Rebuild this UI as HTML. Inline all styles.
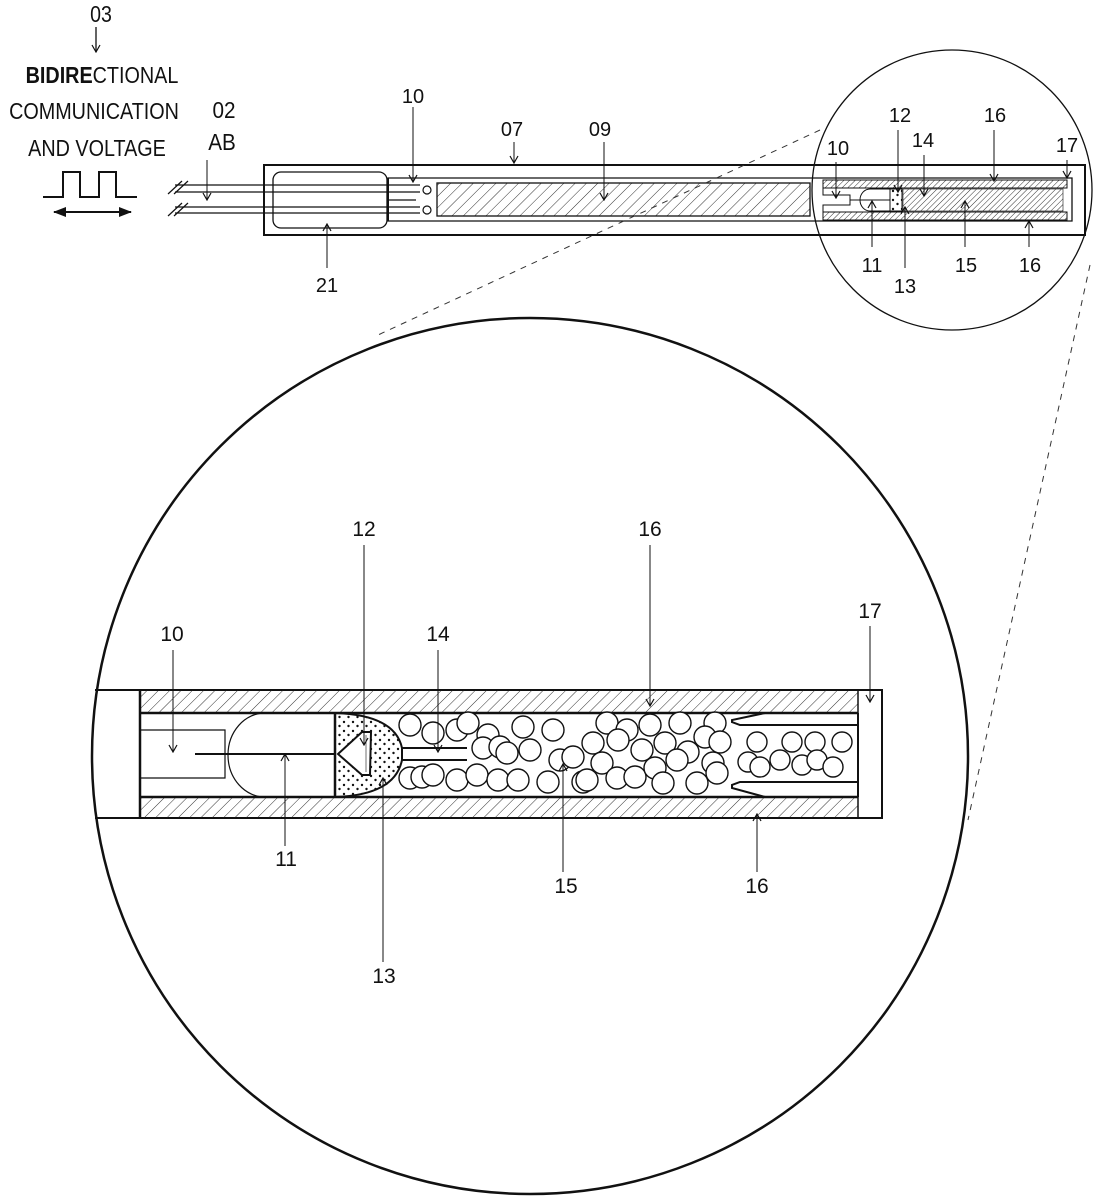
<!DOCTYPE html>
<html><head><meta charset="utf-8"><style>
html,body{margin:0;padding:0;background:#fff;}
svg{display:block;}
text{font-family:"Liberation Sans",sans-serif;fill:#111;}
</style></head><body>
<svg width="1105" height="1200" viewBox="0 0 1105 1200" xmlns="http://www.w3.org/2000/svg">
<defs>
<pattern id="h" width="8" height="8" patternUnits="userSpaceOnUse" patternTransform="rotate(45)">
<line x1="0" y1="0" x2="0" y2="8" stroke="#333" stroke-width="1"/></pattern>
<pattern id="hs" width="4" height="4" patternUnits="userSpaceOnUse" patternTransform="rotate(45)">
<line x1="0" y1="0" x2="0" y2="4" stroke="#333" stroke-width="1"/></pattern>
<pattern id="dots" width="9" height="9" patternUnits="userSpaceOnUse">
<circle cx="2" cy="2" r="1.2" fill="#111"/><circle cx="6.5" cy="6" r="1.2" fill="#111"/></pattern>
<marker id="ar" markerWidth="10" markerHeight="10" refX="9" refY="5" orient="auto" markerUnits="userSpaceOnUse">
<path d="M2,1 L9,5 L2,9" fill="none" stroke="#111" stroke-width="1.2"/></marker>
<marker id="af" markerWidth="14" markerHeight="12" refX="12" refY="6" orient="auto-start-reverse" markerUnits="userSpaceOnUse">
<path d="M0,1 L13,6 L0,11 Z" fill="#111"/></marker>
</defs>

<g font-size="23" text-anchor="middle">
<text x="101" y="22" transform="translate(101 0) scale(0.85 1) translate(-101 0)">03</text>
<text x="102" y="83" transform="translate(102 0) scale(0.86 1) translate(-102 0)"><tspan font-weight="bold">BIDIRE</tspan>CTIONAL</text>
<text x="94" y="119" transform="translate(94 0) scale(0.86 1) translate(-94 0)">COMMUNICATION</text>
<text x="97" y="156" transform="translate(97 0) scale(0.86 1) translate(-97 0)">AND VOLTAGE</text>
<text x="224" y="118" transform="translate(224 0) scale(0.9 1) translate(-224 0)">02</text>
<text x="222" y="150" transform="translate(222 0) scale(0.9 1) translate(-222 0)">AB</text>
</g>
<line x1="96" y1="27" x2="96" y2="52" stroke="#111" stroke-width="1.3" marker-end="url(#ar)"/>
<path d="M43,197 H63 V172 H80 V197 H99 V172 H116 V197 H137" fill="none" stroke="#111" stroke-width="2"/>
<line x1="54" y1="212" x2="131" y2="212" stroke="#111" stroke-width="2" marker-start="url(#af)" marker-end="url(#af)"/>
<line x1="207" y1="160" x2="207" y2="200" stroke="#111" stroke-width="1" marker-end="url(#ar)"/>

<g stroke="#111" fill="none">
<rect x="264" y="165" width="821" height="70" stroke-width="2"/>
<rect x="273" y="172" width="114" height="56" rx="8" stroke-width="1.3"/>
<path d="M388,178 H1072 V221 H388 Z" stroke-width="1.3"/>
<line x1="388" y1="178" x2="388" y2="221" stroke-width="2"/>
<g stroke-width="1.2">
<line x1="175" y1="185" x2="420" y2="185"/><line x1="175" y1="192" x2="420" y2="192"/>
<line x1="388" y1="200" x2="416" y2="200"/>
<line x1="175" y1="207" x2="420" y2="207"/><line x1="175" y1="213" x2="420" y2="213"/>
<line x1="168" y1="194" x2="182" y2="181"/><line x1="174" y1="194" x2="188" y2="181"/>
<line x1="168" y1="216" x2="182" y2="203"/><line x1="174" y1="216" x2="188" y2="203"/>
</g>
<circle cx="427" cy="190" r="4" stroke-width="1.2"/><circle cx="427" cy="210" r="4" stroke-width="1.2"/>
<rect x="437" y="183" width="373" height="33" fill="url(#h)" stroke-width="1.3"/>
<rect x="823" y="180" width="244" height="8" fill="url(#hs)" stroke-width="1"/>
<rect x="823" y="212" width="244" height="8" fill="url(#hs)" stroke-width="1"/>
<path d="M823,188 V195 H850 V205 H823 V212" stroke-width="1"/>
<path d="M890,189 H870 A10,11 0 0 0 870,211 H890 Z" stroke-width="1"/>
<rect x="890" y="189" width="12" height="22" fill="url(#dots)" stroke-width="1"/>
<rect x="903" y="189" width="160" height="22" fill="url(#hs)" stroke-width="0.6"/>
<line x1="850" y1="200" x2="890" y2="200" stroke-width="1"/>
</g>
<g font-size="20" text-anchor="middle">
<text x="413" y="103">10</text><text x="512" y="136">07</text><text x="600" y="136">09</text><text x="327" y="292">21</text>
<text x="838" y="155">10</text><text x="900" y="122">12</text><text x="923" y="147">14</text><text x="995" y="122">16</text><text x="1067" y="152">17</text>
<text x="872" y="272">11</text><text x="905" y="293">13</text><text x="966" y="272">15</text><text x="1030" y="272">16</text>
</g>
<g stroke="#111" stroke-width="1" fill="none">
<line x1="413" y1="107" x2="413" y2="182" marker-end="url(#ar)"/>
<line x1="514" y1="142" x2="514" y2="163" marker-end="url(#ar)"/>
<line x1="604" y1="142" x2="604" y2="200" marker-end="url(#ar)"/>
<line x1="327" y1="268" x2="327" y2="224" marker-end="url(#ar)"/>
<line x1="836" y1="162" x2="836" y2="198" marker-end="url(#ar)"/>
<line x1="898" y1="130" x2="898" y2="192" marker-end="url(#ar)"/>
<line x1="924" y1="155" x2="924" y2="196" marker-end="url(#ar)"/>
<line x1="994" y1="130" x2="994" y2="181" marker-end="url(#ar)"/>
<line x1="1067" y1="160" x2="1067" y2="178" marker-end="url(#ar)"/>
<line x1="872" y1="247" x2="872" y2="201" marker-end="url(#ar)"/>
<line x1="905" y1="268" x2="905" y2="207" marker-end="url(#ar)"/>
<line x1="965" y1="247" x2="965" y2="201" marker-end="url(#ar)"/>
<line x1="1029" y1="247" x2="1029" y2="221" marker-end="url(#ar)"/>
</g>
<circle cx="952" cy="190" r="140" fill="none" stroke="#111" stroke-width="1.3"/>
<line x1="820" y1="130" x2="378" y2="335" stroke="#333" stroke-width="1" stroke-dasharray="6 6"/>
<line x1="1090" y1="265" x2="968" y2="820" stroke="#333" stroke-width="1" stroke-dasharray="6 6"/>

<circle cx="530" cy="756" r="438" fill="none" stroke="#111" stroke-width="2.5"/>
<g stroke="#111" fill="none">
<path d="M95,690 H882 V818 H95" stroke-width="2"/>
<rect x="140" y="690" width="718" height="23" fill="url(#h)" stroke-width="1.5"/>
<rect x="140" y="797" width="718" height="21" fill="url(#h)" stroke-width="1.5"/>
<line x1="140" y1="690" x2="140" y2="818" stroke-width="2.5"/>
<line x1="140" y1="713" x2="858" y2="713" stroke-width="2.5"/>
<line x1="140" y1="797" x2="858" y2="797" stroke-width="2.5"/>
<path d="M140,713 V730 H225 V778 H140 V797" stroke-width="1.2"/>
<line x1="195" y1="754" x2="335" y2="754" stroke-width="2"/>
<path d="M335,713 H265 A37,42 0 0 0 265,797 H335" stroke-width="1.2"/>
<path d="M335,713 Q395,715 402,748 L402,760 Q395,795 335,797 Z" fill="url(#dots)" stroke-width="2"/>
<path d="M402,748 L467,748 M467,760 L402,760" stroke-width="2"/>
<line x1="335" y1="713" x2="335" y2="797" stroke-width="2.5"/>
<path d="M338,754 L362,732 H371 L370,775 L362,775 Z" fill="#fff" stroke-width="2"/>
<line x1="366" y1="735" x2="366" y2="772" stroke-width="0.6"/>
<path d="M858,713 V725 H740 L732,722 V720 L765,713" stroke-width="2"/>
<path d="M858,797 V782 H740 L732,785 V788 L765,797" stroke-width="2"/>
<line x1="858" y1="725" x2="858" y2="782" stroke-width="2"/>
<g stroke-width="1.4" fill="#fff">
<circle cx="410" cy="725" r="11"/><circle cx="433" cy="733" r="11"/><circle cx="457" cy="730" r="11"/><circle cx="468" cy="723" r="11"/><circle cx="488" cy="735" r="11"/><circle cx="523" cy="727" r="11"/><circle cx="483" cy="748" r="11"/><circle cx="500" cy="747" r="11"/><circle cx="507" cy="753" r="11"/><circle cx="530" cy="750" r="11"/><circle cx="553" cy="730" r="11"/><circle cx="560" cy="760" r="11"/><circle cx="573" cy="757" r="11"/>
<circle cx="410" cy="778" r="11"/><circle cx="422" cy="777" r="11"/><circle cx="433" cy="775" r="11"/><circle cx="457" cy="780" r="11"/><circle cx="477" cy="775" r="11"/><circle cx="498" cy="780" r="11"/><circle cx="518" cy="780" r="11"/><circle cx="548" cy="782" r="11"/><circle cx="583" cy="782" r="11"/>
<circle cx="607" cy="723" r="11"/><circle cx="627" cy="730" r="11"/><circle cx="650" cy="725" r="11"/><circle cx="680" cy="723" r="11"/><circle cx="715" cy="723" r="11"/><circle cx="593" cy="743" r="11"/><circle cx="618" cy="740" r="11"/><circle cx="642" cy="750" r="11"/><circle cx="665" cy="743" r="11"/><circle cx="688" cy="752" r="11"/><circle cx="705" cy="737" r="11"/><circle cx="720" cy="742" r="11"/>
<circle cx="602" cy="763" r="11"/><circle cx="587" cy="780" r="11"/><circle cx="617" cy="778" r="11"/><circle cx="635" cy="777" r="11"/><circle cx="655" cy="768" r="11"/><circle cx="677" cy="760" r="11"/><circle cx="663" cy="783" r="11"/><circle cx="697" cy="783" r="11"/><circle cx="713" cy="763" r="11"/><circle cx="717" cy="773" r="11"/>
<circle cx="748" cy="762" r="10"/><circle cx="757" cy="742" r="10"/><circle cx="760" cy="767" r="10"/><circle cx="780" cy="760" r="10"/><circle cx="792" cy="742" r="10"/><circle cx="802" cy="765" r="10"/><circle cx="815" cy="742" r="10"/><circle cx="817" cy="760" r="10"/><circle cx="833" cy="767" r="10"/><circle cx="842" cy="742" r="10"/>
</g>
</g>
<g font-size="21" text-anchor="middle">
<text x="364" y="536">12</text><text x="650" y="536">16</text><text x="172" y="641">10</text><text x="438" y="641">14</text><text x="870" y="618">17</text>
<text x="286" y="866">11</text><text x="566" y="893">15</text><text x="757" y="893">16</text><text x="384" y="983">13</text>
</g>
<g stroke="#111" stroke-width="1" fill="none">
<line x1="364" y1="545" x2="364" y2="745" marker-end="url(#ar)"/>
<line x1="650" y1="545" x2="650" y2="706" marker-end="url(#ar)"/>
<line x1="173" y1="650" x2="173" y2="752" marker-end="url(#ar)"/>
<line x1="438" y1="650" x2="438" y2="752" marker-end="url(#ar)"/>
<line x1="870" y1="626" x2="870" y2="702" marker-end="url(#ar)"/>
<line x1="285" y1="846" x2="285" y2="754" marker-end="url(#ar)"/>
<line x1="563" y1="872" x2="563" y2="764" marker-end="url(#ar)"/>
<line x1="757" y1="872" x2="757" y2="814" marker-end="url(#ar)"/>
<line x1="383" y1="962" x2="383" y2="778" marker-end="url(#ar)"/>
</g>
</svg>
</body></html>
